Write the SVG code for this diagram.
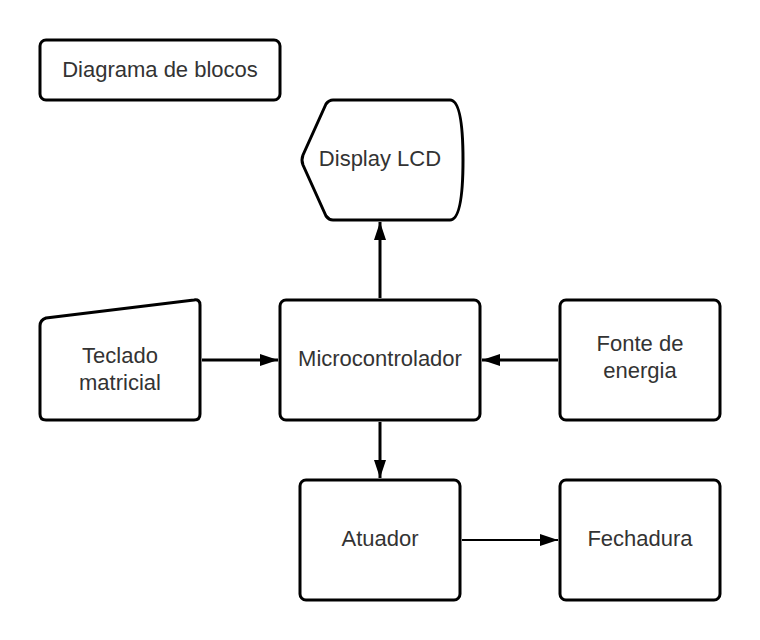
<svg xmlns="http://www.w3.org/2000/svg" width="760" height="640" viewBox="0 0 760 640">
<style>
.n{fill:#fff;stroke:#000;stroke-width:3;stroke-linejoin:round}
.t{font-family:"Liberation Sans",Arial,sans-serif;font-size:22px;fill:#333;text-anchor:middle;dominant-baseline:central}
.c{stroke:#000;fill:none}
</style>
<defs>
<marker id="b" viewBox="0 0 18 12" refX="18" refY="6" markerWidth="18" markerHeight="12" orient="auto" markerUnits="userSpaceOnUse">
<path d="M0,0 L18,6 L0,12 Z" fill="#000"/>
</marker>
</defs>
<rect width="760" height="640" fill="#fff"/>
<g id="connectors">
<line class="c" x1="380" y1="298" x2="380" y2="222" stroke-width="3" marker-end="url(#b)"/>
<line class="c" x1="202" y1="360" x2="278" y2="360" stroke-width="3" marker-end="url(#b)"/>
<line class="c" x1="558" y1="360" x2="482" y2="360" stroke-width="3" marker-end="url(#b)"/>
<line class="c" x1="380" y1="422" x2="380" y2="478" stroke-width="3" marker-end="url(#b)"/>
<line class="c" x1="462" y1="540" x2="558" y2="540" stroke-width="2" marker-end="url(#b)"/>
</g>
<g id="title">
<rect class="n" x="40" y="40" width="240" height="60" rx="6"/>
<text class="t" x="160" y="69">Diagrama de blocos</text>
</g>
<g id="display">
<path class="n" d="M333,100 L450,100 Q463,100 463,160 Q463,220 450,220 L333,220 Q329,220 326,216 L303,165 Q301,160 303,155 L326,104 Q329,100 333,100 Z"/>
<text class="t" x="380" y="158">Display LCD</text>
</g>
<g id="teclado">
<path class="n" d="M46,318 L194,300 Q200,299 200,305 L200,414 Q200,420 194,420 L46,420 Q40,420 40,414 L40,326 Q40,320 46,318 Z"/>
<text class="t" x="120" y="355">Teclado</text>
<text class="t" x="120" y="382">matricial</text>
</g>
<g id="micro">
<rect class="n" x="280" y="300" width="200" height="120" rx="6"/>
<text class="t" x="380" y="358">Microcontrolador</text>
</g>
<g id="fonte">
<rect class="n" x="560" y="300" width="160" height="120" rx="6"/>
<text class="t" x="640" y="343">Fonte de</text>
<text class="t" x="640" y="370">energia</text>
</g>
<g id="atuador">
<rect class="n" x="300" y="480" width="160" height="120" rx="6"/>
<text class="t" x="380" y="538">Atuador</text>
</g>
<g id="fechadura">
<rect class="n" x="560" y="480" width="160" height="120" rx="6"/>
<text class="t" x="640" y="538">Fechadura</text>
</g>
</svg>
